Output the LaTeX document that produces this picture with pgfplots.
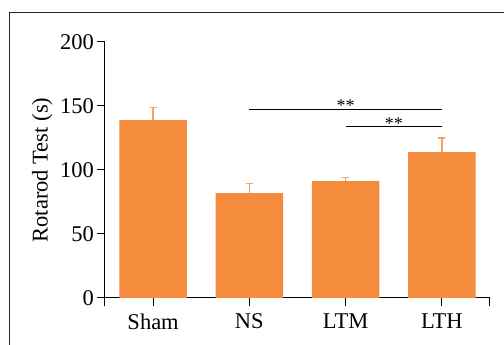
\documentclass[border=0pt]{standalone}
\usepackage{pgfplots}
\pgfplotsset{compat=1.18}
\usepackage{fontspec}
\setmainfont{Liberation Serif}
\definecolor{barc}{RGB}{245,139,60}
\definecolor{errc}{RGB}{247,160,100}
\begin{document}
\begin{tikzpicture}
\useasboundingbox (0pt,0pt) rectangle (504pt,345pt);
\draw[line width=1.3pt, black!85] (9.5pt,0pt) -- (9.5pt,332.5pt) -- (504pt,332.5pt);
\begin{axis}[
  at={(105pt,47pt)}, anchor=south west,
  scale only axis, width=385pt, height=256pt,
  xmin=-0.5, xmax=3.5, ymin=0, ymax=200,
  axis x line*=bottom, axis y line*=left,
  axis line style={line width=1pt, black},
  tick align=outside,
  major tick length=8.5pt,
  xtick={0,1,2,3}, xticklabels={Sham,NS,LTM,LTH},
  extra x ticks={-0.5,3.5}, extra x tick labels={},
  ytick={0,50,100,150,200},
  xtick style={line width=1pt, black},
  ytick style={line width=1pt, black},
  /pgf/number format/assume math mode=true,
  tick label style={font=\fontsize{22.5}{26}\selectfont},
  xticklabel style={yshift=-4pt},
  yticklabel style={xshift=1pt},
  ylabel={Rotarod Test (s)},
  ylabel style={font=\fontsize{22.5}{26}\selectfont, yshift=1pt},
  clip=false,
]
\addplot[ybar, bar width=0.7, fill=barc, draw=none,
  error bars/.cd, y dir=plus, y explicit,
  error bar style={errc, line width=1.5pt},
  error mark options={errc, line width=1.5pt, mark size=3.5pt, rotate=90}]
  coordinates {(0,139) +- (0,10) (1,82) +- (0,7.5) (2,91.4) +- (0,2.8) (3,114) +- (0,11)};
\draw[line width=1pt] (axis cs:1,147) -- (axis cs:3,147);
\draw[line width=1pt] (axis cs:2,133.6) -- (axis cs:3,133.6);
\node[anchor=base, font=\fontsize{18}{20}\selectfont, inner sep=0pt] at (axis cs:2,145.5) {**};
\node[anchor=base, font=\fontsize{18}{20}\selectfont, inner sep=0pt] at (axis cs:2.5,132) {**};
\end{axis}
\end{tikzpicture}
\end{document}
